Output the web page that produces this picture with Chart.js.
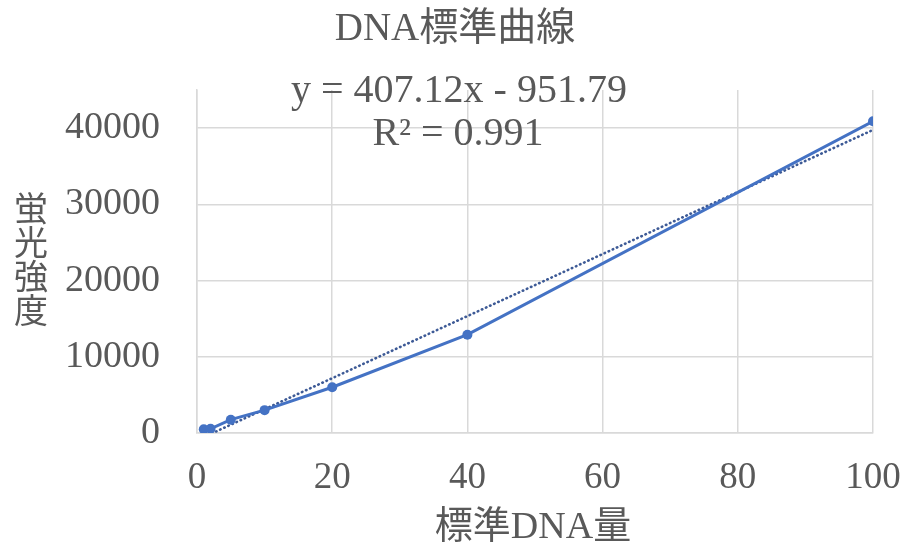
<!DOCTYPE html>
<html>
<head>
<meta charset="utf-8">
<script src="https://cdn.jsdelivr.net/npm/chart.js@4/dist/chart.umd.min.js"></script>
<style>
html,body{margin:0;padding:0;background:#fff;}
#wrap{width:906px;height:553px;position:relative;}
</style>
</head>
<body>
<div id="wrap"><canvas id="c" width="906" height="553"></canvas></div>
<script>
// ---- data ----
const dnaAmount = [1, 2, 5, 10, 20, 40, 100];
const fluorescence = [500, 550, 1750, 3000, 6000, 12900, 40900];
const trendSlope = 407.12;
const trendIntercept = -951.79;
const trendX = [1, 100];
const xTicks = [0, 20, 40, 60, 80, 100];
const yTicks = [0, 10000, 20000, 30000, 40000];
const chartTitle = 'DNA標準曲線';
const xTitle = '標準DNA量';
const yTitleChars = ['蛍', '光', '強', '度'];
const equationLines = ['y = 407.12x - 951.79', 'R² = 0.991'];

const SERIF = "'Liberation Serif', 'Noto Sans CJK JP', serif";
const TXT = '#595959';
const GRID = '#d9d9d9';
const BLUE = '#4472C4';

const mainPts = dnaAmount.map((x, i) => ({x: x, y: fluorescence[i]}));
const trendPts = trendX.map(x => ({x: x, y: trendSlope * x + trendIntercept}));

const overlay = {
  id: 'overlay',
  afterDraw(chart) {
    const ctx = chart.ctx;
    ctx.save();
    ctx.fillStyle = TXT;
    ctx.textAlign = 'center';
    ctx.textBaseline = 'middle';
    ctx.font = "39px " + SERIF;
    ctx.fillText(chartTitle, 455, 30);
    ctx.font = "40px " + SERIF;
    ctx.fillText(equationLines[0], 459, 91);
    ctx.fillText(equationLines[1], 458, 134);
    ctx.font = "38px " + SERIF;
    ctx.fillText(xTitle, 533, 528);
    ctx.font = "34px 'Noto Sans CJK JP', sans-serif";
    yTitleChars.forEach((ch, i) => ctx.fillText(ch, 31, 208 + i * 34));
    ctx.restore();
  }
};

new Chart(document.getElementById('c'), {
  type: 'scatter',
  data: {
    datasets: [
      {
        data: mainPts,
        showLine: true,
        borderColor: BLUE,
        backgroundColor: BLUE,
        borderWidth: 3,
        pointRadius: 5,
        pointBorderWidth: 0,
        pointBackgroundColor: BLUE,
        order: 1
      },
      {
        data: trendPts,
        showLine: true,
        borderColor: '#3d5a96',
        borderWidth: 2.6,
        borderDash: [0.5, 4],
        borderCapStyle: 'round',
        pointRadius: 0,
        order: 2
      }
    ]
  },
  options: {
    responsive: false,
    animation: false,
    devicePixelRatio: 1,
    layout: { padding: { left: 0, right: 33, top: 90, bottom: 0 } },
    plugins: {
      legend: { display: false },
      tooltip: { enabled: false },
      title: { display: false }
    },
    scales: {
      x: {
        type: 'linear',
        min: 0,
        max: 100,
        afterBuildTicks: s => { s.ticks = xTicks.map(v => ({value: v})); },
        afterFit: s => { s.height = 120; s.paddingLeft = 0; s.paddingRight = 0; },
        ticks: {
          color: TXT,
          font: { family: SERIF, size: 37 },
          padding: 23,
          maxRotation: 0,
          autoSkip: false,
          callback: v => String(v)
        },
        grid: { color: GRID, lineWidth: 1.5, drawTicks: false, tickLength: 0 },
        border: { color: GRID, width: 1.5 }
      },
      y: {
        type: 'linear',
        min: 0,
        max: 45000,
        afterBuildTicks: s => { s.ticks = yTicks.map(v => ({value: v})); },
        afterFit: s => { s.width = 197; s.paddingTop = 0; s.paddingBottom = 0; },
        ticks: {
          color: TXT,
          font: { family: SERIF, size: 38 },
          padding: 37,
          autoSkip: false,
          callback: v => String(v)
        },
        grid: { color: GRID, lineWidth: 1.5, drawTicks: false, tickLength: 0 },
        border: { color: GRID, width: 1.5 }
      }
    }
  },
  plugins: [overlay]
});
</script>
</body>
</html>
